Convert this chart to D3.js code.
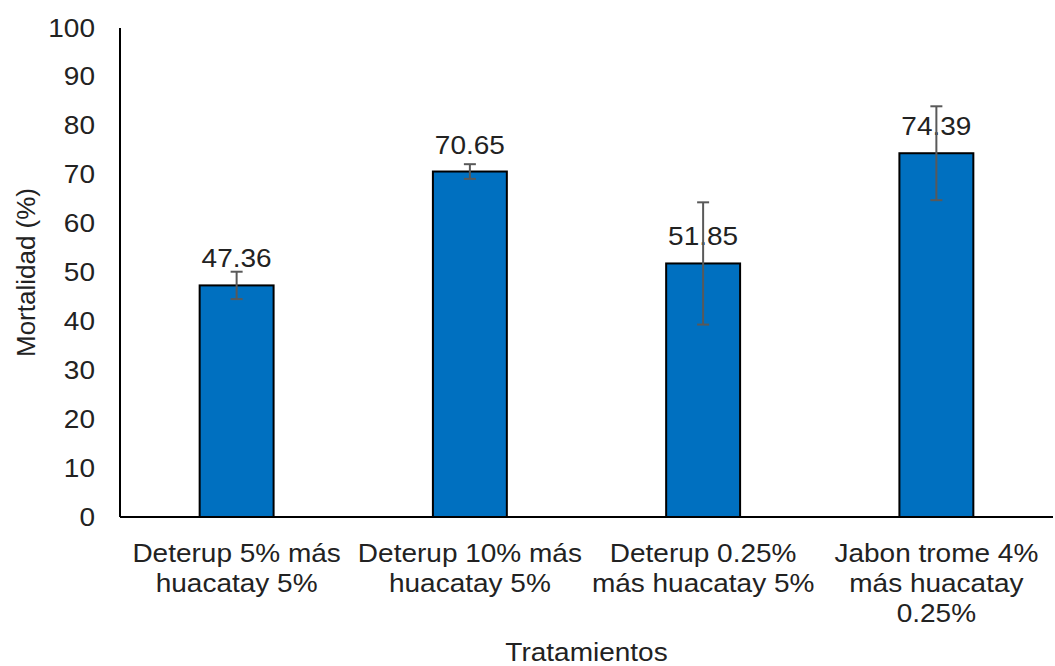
<!DOCTYPE html>
<html>
<head>
<meta charset="utf-8">
<script src="https://cdn.jsdelivr.net/npm/d3@7"></script>
<style>
  body { margin: 0; background: #fff; }
  text { font-family: "Liberation Sans", Arial, sans-serif; fill: #222; }
</style>
</head>
<body>
<svg id="chart"></svg>
<script>
// data
const categories = [
    ['Deterup 5% más', 'huacatay 5%'],
    ['Deterup 10% más', 'huacatay 5%'],
    ['Deterup 0.25%', 'más huacatay 5%'],
    ['Jabon trome 4%', 'más huacatay', '0.25%'],
];
const mortality = [47.36, 70.65, 51.85, 74.39];
const errors = [2.8, 1.5, 12.5, 9.6];
const yTicks = [0, 10, 20, 30, 40, 50, 60, 70, 80, 90, 100];

const W = 1055, H = 666;
const m = { top: 28, left: 120, right: 2, bottom: 149 };
const plotW = W - m.left - m.right;
const plotH = H - m.top - m.bottom;
const FS = 25, SX = 1.12; // the source text is a bit wide

const svg = d3.select('#chart').attr('width', W).attr('height', H);
const g = svg.append('g').attr('transform', 'translate(' + m.left + ',' + m.top + ')');

const x = d3.scaleBand().domain(d3.range(categories.length)).range([0, plotW]).padding(0);
const y = d3.scaleLinear().domain([0, 100]).range([plotH, 0]);
const barW = x.bandwidth() * 0.317;
const cx = i => x(i) + x.bandwidth() / 2;

// y axis: labels only + line
const yAxis = g.append('g').call(d3.axisLeft(y).tickValues(yTicks).tickSize(0).tickPadding(0));
yAxis.select('.domain').remove();
yAxis.selectAll('.tick text')
    .attr('x', 0)
    .attr('transform', 'translate(-25,0) scale(' + SX + ',1)')
    .style('font-size', FS + 'px').attr('fill', '#222')
    .attr('font-family', '"Liberation Sans", Arial, sans-serif');

g.append('line').attr('x1', 0).attr('x2', 0).attr('y1', 0).attr('y2', plotH)
    .attr('stroke', '#000').attr('stroke-width', 2);

// bars
g.selectAll('rect.bar').data(mortality).join('rect')
    .attr('class', 'bar')
    .attr('x', (d, i) => cx(i) - barW / 2)
    .attr('y', d => y(d))
    .attr('width', barW)
    .attr('height', d => plotH - y(d))
    .attr('fill', '#0070C0')
    .attr('stroke', '#000')
    .attr('stroke-width', 2);

// x axis line
g.append('line').attr('x1', 0).attr('x2', plotW).attr('y1', plotH).attr('y2', plotH)
    .attr('stroke', '#000').attr('stroke-width', 2);

// value labels
g.selectAll('text.val').data(mortality).join('text')
    .attr('class', 'val')
    .attr('transform', (d, i) => 'translate(' + cx(i) + ',' + (y(d) - 18) + ') scale(' + SX + ',1)')
    .attr('text-anchor', 'middle')
    .style('font-size', FS + 'px')
    .text(d => d.toFixed(2));

// error bars
const err = g.selectAll('g.err').data(mortality).join('g').attr('class', 'err')
    .attr('stroke', '#595959').attr('stroke-width', 2);
err.append('line')
    .attr('x1', (d, i) => cx(i))
    .attr('x2', (d, i) => cx(i))
    .attr('y1', (d, i) => y(d + errors[i]))
    .attr('y2', (d, i) => y(d - errors[i]));
[1, -1].forEach(s => {
    err.append('line')
        .attr('x1', (d, i) => cx(i) - 6)
        .attr('x2', (d, i) => cx(i) + 6)
        .attr('y1', (d, i) => y(d + s * errors[i]))
        .attr('y2', (d, i) => y(d + s * errors[i]));
});

// category labels
const cat = g.selectAll('text.cat').data(categories).join('text')
    .attr('class', 'cat')
    .attr('transform', (d, i) => 'translate(' + cx(i) + ',0) scale(' + SX + ',1)')
    .attr('text-anchor', 'middle')
    .style('font-size', FS + 'px');
cat.each(function (lines) {
    d3.select(this).selectAll('tspan').data(lines).join('tspan')
        .attr('x', 0)
        .attr('y', (d, j) => plotH + 45 + j * 30)
        .text(d => d);
});

// axis titles
g.append('text')
    .attr('transform', 'translate(' + (plotW / 2) + ',' + (H - m.top - 5) + ') scale(' + SX + ',1)')
    .attr('text-anchor', 'middle')
    .style('font-size', FS + 'px')
    .text('Tratamientos');

svg.append('text')
    .attr('transform', 'translate(35,' + (m.top + plotH / 2) + ') rotate(-90)')
    .attr('text-anchor', 'middle')
    .style('font-size', '26px')
    .text('Mortalidad (%)');
</script>
</body>
</html>
